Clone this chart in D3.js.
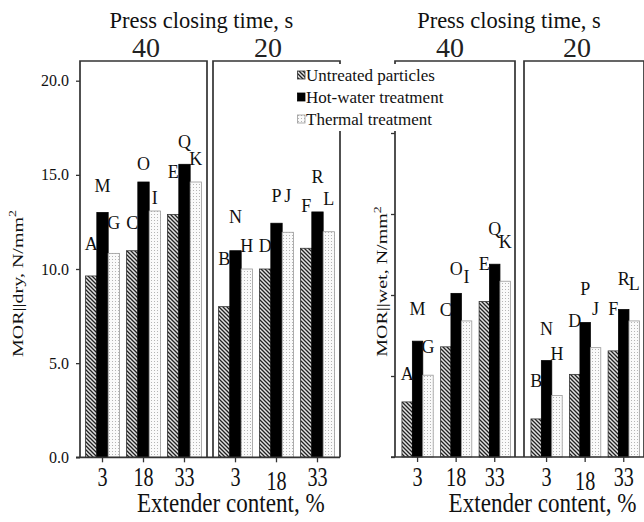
<!DOCTYPE html>
<html><head><meta charset="utf-8">
<script src="https://cdn.jsdelivr.net/npm/d3@7"></script>
<style>body{margin:0;background:#fff}svg{display:block;font-family:"Liberation Serif","Times New Roman",serif}</style>
</head><body><svg id="c" width="644" height="522"></svg>
<script>
// ---------- data ----------
const extenderContent = ["3", "18", "33"];
const pressTimes = ["40", "20"];
const seriesNames = ["Untreated particles", "Hot-water treatment", "Thermal treatment"];
// order: 40 s (3, 18, 33) then 20 s (3, 18, 33)
const dryUntreated = [9.63, 10.97, 12.90, 8.00, 10.00, 11.10];
const dryHot       = [13.00, 14.62, 15.56, 10.97, 12.43, 13.03];
const dryThermal   = [10.83, 13.08, 14.62, 10.00, 11.95, 11.98];
const wetUntreated = [0.68, 1.36, 1.92, 0.47, 1.02, 1.31];
const wetHot       = [1.43, 2.02, 2.38, 1.19, 1.66, 1.82];
const wetThermal   = [1.01, 1.68, 2.17, 0.76, 1.35, 1.68];
const letterUntreated = ["A", "C", "E", "B", "D", "F"];
const letterHot       = ["M", "O", "Q", "N", "P", "R"];
const letterThermal   = ["G", "I", "K", "H", "J", "L"];
// letter baseline heights (value units)
const dryLetterYUntreated = [11.01, 12.12, 14.83, 10.21, 10.90, 13.03];
const dryLetterYHot       = [14.09, 15.26, 16.43, 12.44, 13.56, 14.57];
const dryLetterYThermal   = [12.12, 13.45, 15.52, 10.90, 13.56, 13.40];
const wetLetterYUntreated = [0.95, 1.74, 2.31, 0.86, 1.60, 1.75];
const wetLetterYHot       = [1.75, 2.25, 2.74, 1.51, 2.00, 2.12];
const wetLetterYThermal   = [1.28, 2.15, 2.58, 1.20, 1.75, 2.06];
const dryTicks = [0, 5, 10, 15, 20];
const wetTicks = [0, 1, 2, 3, 4];

// ---------- layout ----------
const svg = d3.select("#c");
const defs = svg.append("defs");
const hatch = defs.append("pattern").attr("id", "hatch").attr("patternUnits", "userSpaceOnUse")
  .attr("width", 4).attr("height", 4);
hatch.append("rect").attr("width", 4).attr("height", 4).attr("fill", "#e2e2e2");
hatch.append("path").attr("d", "M-1,-1 L5,5 M-1,3 L1,5 M3,-1 L5,1")
  .attr("stroke", "#222").attr("stroke-width", 1.3);
const dots = defs.append("pattern").attr("id", "dots").attr("patternUnits", "userSpaceOnUse")
  .attr("width", 3).attr("height", 3);
dots.append("rect").attr("width", 3).attr("height", 3).attr("fill", "#fafafa");
dots.append("rect").attr("x", 1).attr("y", 1).attr("width", 1).attr("height", 1).attr("fill", "#b5b5b5");

const fills = ["url(#hatch)", "#000", "url(#dots)"];
const strokes = ["#333", "#000", "#999"];
const ink = "#333";

function drawChart(o) {
  const g = svg.append("g");
  const y = d3.scaleLinear().domain(o.yDomain).range([o.bottom, o.yTop]);
  const values = [o.u, o.h, o.t];
  const letters = [letterUntreated, letterHot, letterThermal];
  const letterY = o.letterY;

  // title
  g.append("text").attr("x", o.titleX).attr("y", 27.7).attr("text-anchor", "middle")
    .attr("font-size", 22.5).attr("fill", "#111").text("Press closing time, s");

  o.panels.forEach((pr, p) => {
    // panel box
    g.append("path").attr("d", `M${pr[0]},${o.bottom} V${o.top} H${pr[1]} V${o.bottom}`)
      .attr("fill", "none").attr("stroke", ink).attr("stroke-width", 1.7);
    g.append("text").attr("x", o.panelLabelX[p]).attr("y", 56.5).attr("text-anchor", "middle")
      .attr("font-size", 28).attr("fill", "#222").text(pressTimes[p]);

    const x0 = d3.scaleBand().domain(extenderContent).range(pr)
      .paddingInner(o.pi).paddingOuter(o.po).align(o.align);
    const x1 = d3.scaleBand().domain([0, 1, 2]).range([0, x0.bandwidth()]);
    const rows = extenderContent.flatMap((c, gi) => [0, 1, 2].map(s => ({
      c, s,
      v: values[s][p * 3 + gi],
      letter: letters[s][p * 3 + gi],
      ly: letterY[s][p * 3 + gi]
    })));
    g.selectAll(null).data(rows).join("rect")
      .attr("x", d => x0(d.c) + x1(d.s))
      .attr("y", d => y(d.v))
      .attr("width", x1.bandwidth())
      .attr("height", d => y(0) - y(d.v))
      .attr("fill", d => fills[d.s])
      .attr("stroke", d => strokes[d.s]).attr("stroke-width", 0.8);
    g.selectAll(null).data(rows).join("text")
      .attr("x", d => x0(d.c) + x1(d.s) + x1.bandwidth() / 2)
      .attr("y", d => y(d.ly))
      .attr("text-anchor", "middle").attr("font-size", 18).attr("fill", "#111")
      .text(d => d.letter);

    // x axis ticks + labels
    const ax = g.append("g").attr("transform", `translate(0,${o.bottom})`)
      .call(d3.axisBottom(x0).tickSize(5).tickSizeOuter(0).tickPadding(4));
    ax.select(".domain").remove();
    ax.selectAll(".tick line").attr("stroke", ink).attr("stroke-width", 1.3);
    ax.selectAll(".tick text").attr("font-family", "Liberation Serif").attr("font-size", 28)
      .attr("fill", "#111").attr("transform", "scale(0.72,1)")
      .attr("y", d => (p === 1 && d === "18") ? 13 : 9);
  });

  // baseline
  g.append("line").attr("x1", o.axisX0).attr("x2", o.axisX1).attr("y1", o.bottom).attr("y2", o.bottom)
    .attr("stroke", ink).attr("stroke-width", 1.7);
  // y axis
  const ay = g.append("g").attr("transform", `translate(${o.panels[0][0]},0)`)
    .call(d3.axisLeft(y).tickValues(o.ticks).tickSize(4).tickPadding(7).tickFormat(o.fmt));
  ay.select(".domain").remove();
  ay.selectAll(".tick line").attr("stroke", ink).attr("stroke-width", 1.3);
  ay.selectAll(".tick text").attr("font-family", "Liberation Serif").attr("font-size", 16).attr("fill", "#111");

  // axis titles
  g.append("text").attr("transform", `translate(${o.xTitleX},511.7) scale(0.84,1)`)
    .attr("text-anchor", "middle").attr("font-size", 27.5).attr("fill", "#111")
    .text("Extender content, %");
  const yl = g.append("text")
    .attr("transform", `translate(${o.yLabelX},${o.yLabelY}) rotate(-90) scale(1,0.78)`)
    .attr("text-anchor", "middle").attr("font-size", 20).attr("fill", "#111");
  yl.append("tspan").text(o.yLabel);
  yl.append("tspan").attr("dy", -8).attr("font-size", 14).text("2");
}

drawChart({
  panels: [[80, 207], [213, 340]], top: 61, bottom: 457.3, yTop: 80.7, yDomain: [0, 20],
  u: dryUntreated, h: dryHot, t: dryThermal,
  letterY: [dryLetterYUntreated, dryLetterYHot, dryLetterYThermal],
  ticks: dryTicks, fmt: d3.format(".1f"),
  pi: 0.17, po: 0.134, align: 0.5,
  axisX0: 76, axisX1: 340,
  titleX: 201.4, panelLabelX: [146, 268], xTitleX: 230.8,
  yLabelX: 22.5, yLabelY: 283.5, yLabel: "MOR||dry, N/mm"
});

drawChart({
  panels: [[395, 515], [524, 644]], top: 61, bottom: 457, yTop: 60.1, yDomain: [0, 4.9],
  u: wetUntreated, h: wetHot, t: wetThermal,
  letterY: [wetLetterYUntreated, wetLetterYHot, wetLetterYThermal],
  ticks: wetTicks, fmt: () => "",
  pi: 0.19, po: 0.15, align: 0.6,
  axisX0: 391, axisX1: 644,
  titleX: 509, panelLabelX: [450, 577], xTitleX: 542.5,
  yLabelX: 387, yLabelY: 281.5, yLabel: "MOR||wet, N/mm"
});

// legend
const lg = svg.append("g");
lg.append("rect").attr("x", 284).attr("y", 64).attr("width", 170).attr("height", 67).attr("fill", "#fff");
const rowY = d3.scaleBand().domain(seriesNames).range([64, 130]);
seriesNames.forEach((name, i) => {
  const cy = rowY(name) + rowY.bandwidth() / 2;
  lg.append("rect").attr("x", 297.5).attr("y", cy - 4).attr("width", 7.5).attr("height", 8)
    .attr("fill", fills[i]).attr("stroke", strokes[i]).attr("stroke-width", 0.8);
  lg.append("text").attr("x", 306).attr("y", cy + 6).attr("font-size", 17).attr("fill", "#111").text(name);
});
</script></body></html>
